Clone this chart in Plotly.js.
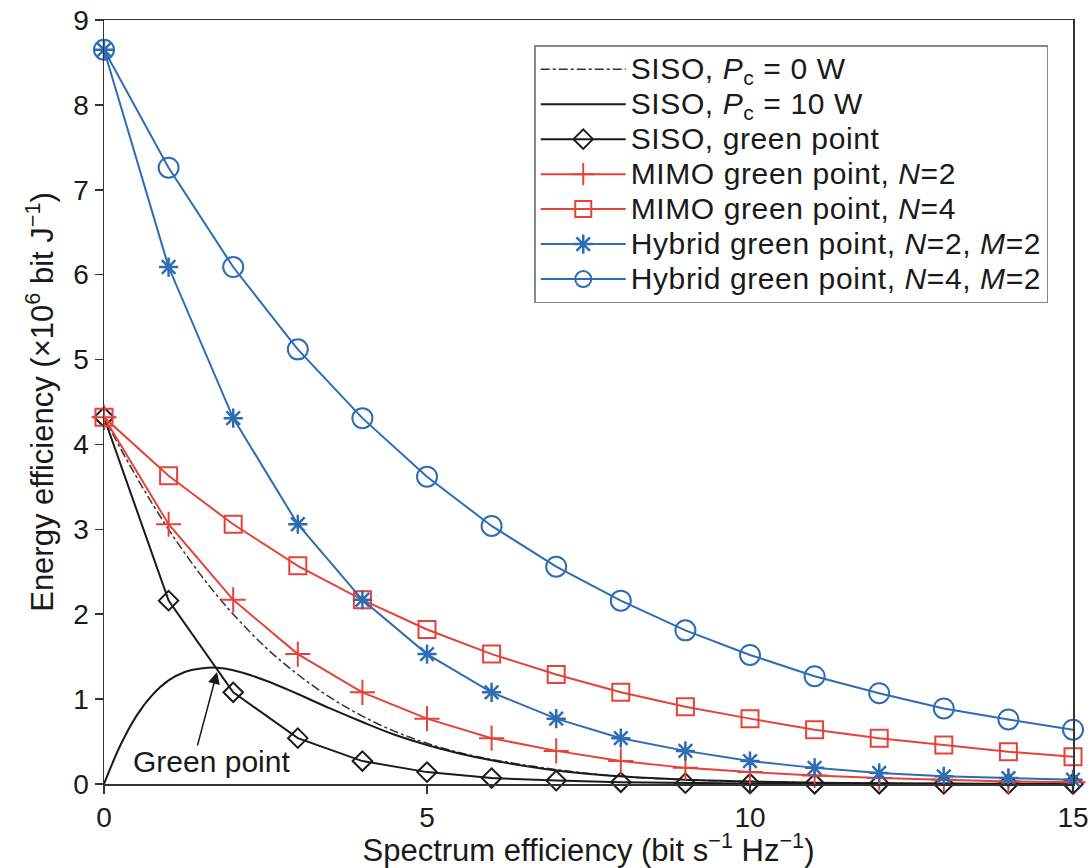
<!DOCTYPE html>
<html>
<head>
<meta charset="utf-8">
<script src="https://cdn.plot.ly/plotly-3.0.1.min.js"></script>
<style>
html,body{margin:0;padding:0;background:#fff;}
#chart{width:1090px;height:868px;}
.legendtext{font-size:30px !important;letter-spacing:0.6px;}
</style>
</head>
<body>
<div id="chart"></div>
<script>
// Marker series (spectrum efficiency 0..15)
const sePoints = [0,1,2,3,4,5,6,7,8,9,10,11,12,13,14,15];
const sisoGreen = [4.32,2.16,1.08,0.54,0.27,0.14,0.07,0.04,0.02,0.01,0.005,0.003,0.002,0.001,0.0005,0.0003];
const mimoN2 = [4.32,3.06,2.17,1.53,1.08,0.77,0.54,0.39,0.27,0.19,0.14,0.10,0.07,0.05,0.03,0.02];
const mimoN4 = [4.32,3.63,3.06,2.57,2.17,1.82,1.53,1.29,1.08,0.91,0.77,0.64,0.54,0.46,0.38,0.32];
const hybridN2M2 = [8.65,6.09,4.31,3.06,2.17,1.53,1.08,0.77,0.54,0.39,0.27,0.19,0.13,0.09,0.07,0.05];
const hybridN4M2 = [8.65,7.26,6.09,5.12,4.31,3.62,3.04,2.56,2.16,1.81,1.52,1.27,1.07,0.89,0.76,0.64];

// Smooth SISO curves
const smoothSE = [0,0.25,0.5,0.75,1,1.25,1.5,1.75,2,2.5,3,3.5,4,4.5,5,5.5,6,7,8,9,10,11,12,13,14,15];
const sisoPc0 = [4.32,3.96,3.62,3.30,3.00,2.72,2.46,2.22,2.00,1.61,1.29,1.02,0.80,0.62,0.48,0.37,0.29,0.17,0.09,0.05,0.03,0.016,0.009,0.005,0.003,0.001];
const sisoPc10 = [0,0.45,0.80,1.05,1.22,1.32,1.36,1.37,1.34,1.22,1.06,0.89,0.73,0.58,0.46,0.36,0.28,0.16,0.09,0.05,0.03,0.016,0.009,0.005,0.003,0.001];

const legendNames = [
  'SISO, <i>P</i><sub>c</sub> = 0 W',
  'SISO, <i>P</i><sub>c</sub> = 10 W',
  'SISO, green point',
  'MIMO green point, <i>N</i>=2',
  'MIMO green point, <i>N</i>=4',
  'Hybrid green point, <i>N</i>=2, <i>M</i>=2',
  'Hybrid green point, <i>N</i>=4, <i>M</i>=2'
];

const RED = '#e4433a';
const BLUE = '#2e6db4';
const BLACK = '#1a1a1a';
const FONT = 'Liberation Sans, Arial, Helvetica, sans-serif';

const traces = [
  {x: smoothSE, y: sisoPc0, name: legendNames[0], mode: 'lines', line: {color: '#333', width: 1.5, dash: 'dashdot', shape: 'spline'}},
  {x: smoothSE, y: sisoPc10, name: legendNames[1], mode: 'lines', line: {color: BLACK, width: 2, shape: 'spline'}},
  {x: sePoints, y: sisoGreen, name: legendNames[2], mode: 'lines+markers', line: {color: BLACK, width: 2},
   marker: {symbol: 'diamond-open', size: 15, color: BLACK, line: {width: 2, color: BLACK}}},
  {x: sePoints, y: mimoN2, name: legendNames[3], mode: 'lines+markers', line: {color: RED, width: 2},
   marker: {symbol: 'cross-thin-open', size: 18, color: RED, line: {width: 2, color: RED}}},
  {x: sePoints, y: mimoN4, name: legendNames[4], mode: 'lines+markers', line: {color: RED, width: 2},
   marker: {symbol: 'square-open', size: 17, color: RED, line: {width: 2, color: RED}}},
  {x: sePoints, y: hybridN2M2, name: legendNames[5], mode: 'lines+markers', line: {color: BLUE, width: 2},
   marker: {symbol: 'asterisk-open', size: 16, color: BLUE, line: {width: 2.5, color: BLUE}}},
  {x: sePoints, y: hybridN4M2, name: legendNames[6], mode: 'lines+markers', line: {color: BLUE, width: 2},
   marker: {symbol: 'circle-open', size: 20, color: BLUE, line: {width: 2, color: BLUE}}}
];
traces.forEach(t => { t.cliponaxis = false; });

const axisCommon = {
  showline: true, linecolor: '#333', linewidth: 1.5, mirror: true,
  ticks: 'outside', ticklen: 8, tickwidth: 1.5, tickcolor: '#333',
  showgrid: false, zeroline: false,
  tickfont: {family: FONT, size: 28, color: '#1a1a1a'}
};

const layout = {
  width: 1090, height: 868,
  margin: {l: 104, r: 17, t: 20, b: 84},
  paper_bgcolor: '#fff', plot_bgcolor: '#fff',
  font: {family: FONT, color: '#1a1a1a'},
  showlegend: true,
  xaxis: Object.assign({}, axisCommon, {
    range: [0, 15], tickvals: [0, 5, 10, 15],
    title: {text: 'Spectrum efficiency (bit s<sup>−1</sup> Hz<sup>−1</sup>)', font: {family: FONT, size: 31}, standoff: 2}
  }),
  yaxis: Object.assign({}, axisCommon, {
    range: [0, 9], dtick: 1,
    title: {text: 'Energy efficiency (×10<sup>6</sup> bit J<sup>−1</sup>)', font: {family: FONT, size: 31}, standoff: 10}
  }),
  legend: {
    x: 0.444, y: 0.967, xanchor: 'left', yanchor: 'top',
    bgcolor: '#fff', bordercolor: '#888', borderwidth: 1.5,
    font: {family: FONT, size: 24.6, color: '#1a1a1a'},
    itemwidth: 85, tracegroupgap: 0
  },
  annotations: [
    {x: 1.75, y: 1.32, xref: 'x', yref: 'y', ax: -20, ay: 75, text: '', showarrow: true,
     arrowhead: 2, arrowsize: 1.6, arrowwidth: 1.5, arrowcolor: BLACK},
    {x: 1.66, y: 0.27, xref: 'x', yref: 'y', text: 'Green point', showarrow: false,
     font: {family: FONT, size: 30, color: BLACK}}
  ]
};

Plotly.newPlot('chart', traces, layout, {staticPlot: true, displayModeBar: false});
</script>
</body>
</html>
